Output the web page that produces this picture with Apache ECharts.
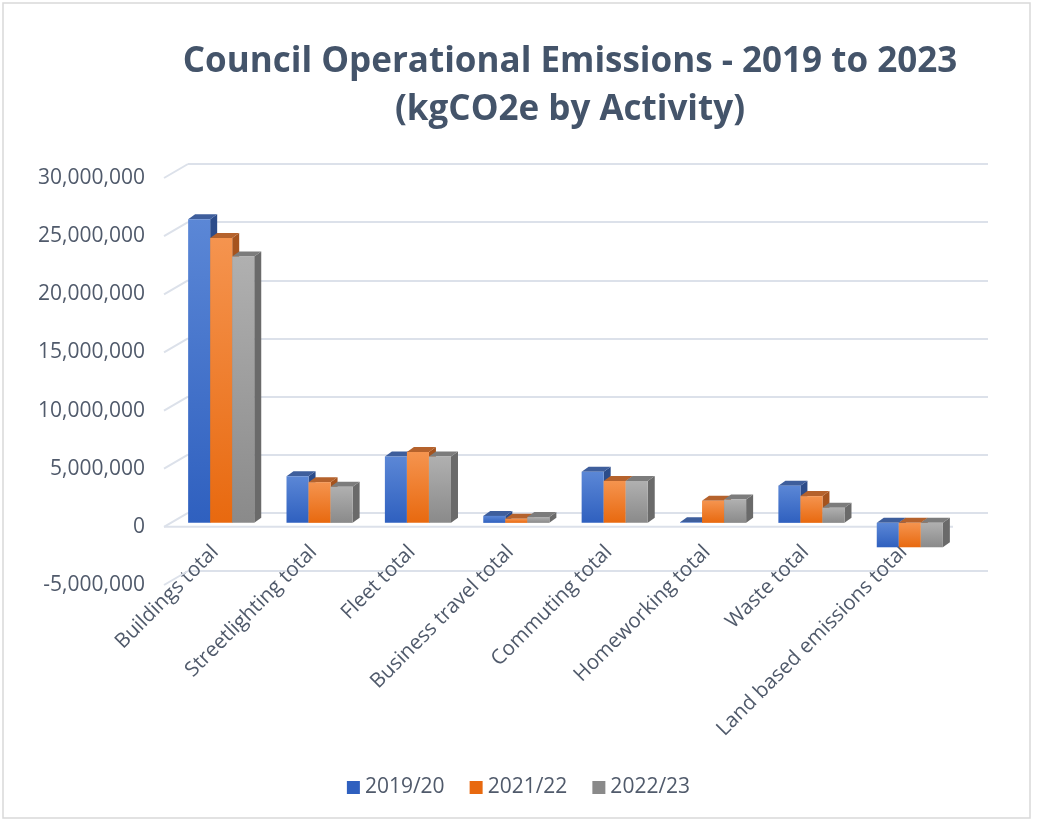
<!DOCTYPE html>
<html>
<head>
<meta charset="utf-8">
<script src="https://cdn.jsdelivr.net/npm/echarts@6/dist/echarts.min.js"></script>
<style>
  html, body { margin: 0; padding: 0; background: #fff; }
  #chart { width: 1037px; height: 825px; }
</style>
</head>
<body>
<div id="chart"></div>
<script>
// categories and values (kgCO2e)
const categories = [
  'Buildings total', 'Streetlighting total', 'Fleet total', 'Business travel total',
  'Commuting total', 'Homeworking total', 'Waste total', 'Land based emissions total'
]
const seriesNames = ['2019/20', '2021/22', '2022/23']
const values2019 = [26100000, 4000000, 5700000, 600000, 4400000, 50000, 3200000, -2100000]
const values2021 = [24500000, 3500000, 6100000, 350000, 3600000, 1900000, 2300000, -2100000]
const values2022 = [22900000, 3100000, 5700000, 500000, 3600000, 2000000, 1300000, -2100000]
const yTicks = [-5000000, 0, 5000000, 10000000, 15000000, 20000000, 25000000, 30000000]

// 3d look
const DEPTH_X = 22, DEPTH_Y = -14     // wall depth
const BAR_OFF_X = 6, BAR_OFF_Y = -4   // bar plane sits a bit inside the floor
const BAR_DX = 7, BAR_DY = -5         // bar thickness
const textColor = '#505A6B'
const gridColor = '#DCE1EA'
const font = 'Open Sans'

const palette = [
  {top: '#5B87D6', bottom: '#2F60BF', cap: '#3E5E9C', side: '#2C4C8A'},
  {top: '#F5944F', bottom: '#E8690F', cap: '#B5622C', side: '#A5531E'},
  {top: '#B0B0B0', bottom: '#8A8A8A', cap: '#7C7C7C', side: '#6A6A6A'},
]

const chart = echarts.init(document.getElementById('chart'))

const fmt = v => v.toLocaleString('en-US')

function barRenderer(idx) {
  return function (params, api) {
    const cat = api.value(0)
    const v = api.value(1)
    const band = api.size([1, 0])[0]
    const bw = band * 0.224
    const pv = api.coord([cat, v])
    const p0 = api.coord([cat, 0])
    const x0 = pv[0] + BAR_OFF_X + (idx - 1) * bw - bw / 2
    const top = Math.min(pv[1], p0[1]) + BAR_OFF_Y
    const bot = Math.max(pv[1], p0[1]) + BAR_OFF_Y
    const c = palette[idx]
    return {
      type: 'group',
      children: [
        {
          type: 'polygon',
          shape: {points: [[x0 + bw, top], [x0 + bw + BAR_DX, top + BAR_DY], [x0 + bw + BAR_DX, bot + BAR_DY], [x0 + bw, bot]]},
          style: {fill: c.side}
        },
        {
          type: 'polygon',
          shape: {points: [[x0, top], [x0 + bw, top], [x0 + bw + BAR_DX, top + BAR_DY], [x0 + BAR_DX, top + BAR_DY]]},
          style: {fill: c.cap}
        },
        {
          type: 'rect',
          shape: {x: x0, y: top, width: bw, height: Math.max(bot - top, 0.5)},
          style: {
            fill: {type: 'linear', x: 0, y: 0, x2: 0, y2: 1, colorStops: [
              {offset: 0, color: c.top}, {offset: 1, color: c.bottom}
            ]}
          }
        }
      ]
    }
  }
}

// diagonal lines from the front axis to the back wall, plus the floor front edge at 0
function depthRenderer(params, api) {
  const t = api.value(1)
  const y = api.coord([0, t])[1]
  const x = params.coordSys.x
  const children = [{
    type: 'line',
    shape: {x1: x - 2, y1: y, x2: x + DEPTH_X, y2: y + DEPTH_Y},
    style: {stroke: gridColor, lineWidth: 2}
  }]
  if (t === 0) {
    children.push({
      type: 'line',
      shape: {x1: x - 2, y1: y, x2: x + params.coordSys.width, y2: y},
      style: {stroke: gridColor, lineWidth: 2}
    })
  }
  return {type: 'group', children: children}
}

const allValues = [values2019, values2021, values2022]

const option = {
  animation: false,
  textStyle: {fontFamily: font},
  title: {
    text: 'Council Operational Emissions - 2019 to 2023\n(kgCO2e by Activity)',
    left: 565,
    top: 33,
    textAlign: 'center',
    textStyle: {fontSize: 35, fontWeight: 'bold', color: '#44546A', lineHeight: 48, fontFamily: font}
  },
  legend: {
    data: seriesNames,
    top: 772,
    left: 'center',
    itemWidth: 13,
    itemHeight: 13,
    itemGap: 25,
    icon: 'rect',
    textStyle: {fontSize: 21, color: textColor, fontFamily: font}
  },
  graphic: [{
    type: 'rect',
    shape: {x: 3, y: 3, width: 1027, height: 815},
    style: {fill: 'none', stroke: '#D9D9D9', lineWidth: 1.5},
    silent: true
  }],
  grid: [
    {left: 166, top: 178, width: 787, height: 407},
    {left: 166 + DEPTH_X, top: 178 + DEPTH_Y, width: 800, height: 407},
    // only carries the category labels, its bottom edge is the zero line
    {left: 166, top: 178, width: 787, height: 349}
  ],
  xAxis: [
    {
      type: 'category', gridIndex: 0, data: categories,
      axisLine: {show: false}, axisTick: {show: false}, axisLabel: {show: false}
    },
    {type: 'category', gridIndex: 1, data: categories, show: false},
    {
      type: 'category', gridIndex: 2, data: categories,
      axisLine: {show: false}, axisTick: {show: false},
      axisLabel: {rotate: 45, interval: 0, fontSize: 20.5, color: textColor, margin: 22}
    }
  ],
  yAxis: [
    {
      type: 'value', gridIndex: 0, min: -5000000, max: 30000000, interval: 5000000,
      axisLine: {show: false}, axisTick: {show: false}, splitLine: {show: false},
      axisLabel: {fontSize: 21, color: textColor, margin: 21, formatter: fmt}
    },
    {
      type: 'value', gridIndex: 1, min: -5000000, max: 30000000, interval: 5000000,
      axisLine: {show: false}, axisTick: {show: false},
      axisLabel: {show: false},
      splitLine: {lineStyle: {color: gridColor, width: 2}}
    },
    {type: 'value', gridIndex: 2, show: false, min: 0, max: 30000000}
  ],
  series: [
    {
      type: 'custom', name: 'depth', xAxisIndex: 0, yAxisIndex: 0,
      renderItem: depthRenderer, silent: true, z: 1,
      data: yTicks.map(t => [0, t])
    },
    ...seriesNames.map((name, i) => ({
      type: 'custom',
      name: name,
      xAxisIndex: 0, yAxisIndex: 0,
      itemStyle: {color: palette[i].bottom},
      renderItem: barRenderer(i),
      z: 3,
      data: allValues[i].map((v, k) => [k, v])
    }))
  ]
}

chart.setOption(option)
</script>
</body>
</html>
